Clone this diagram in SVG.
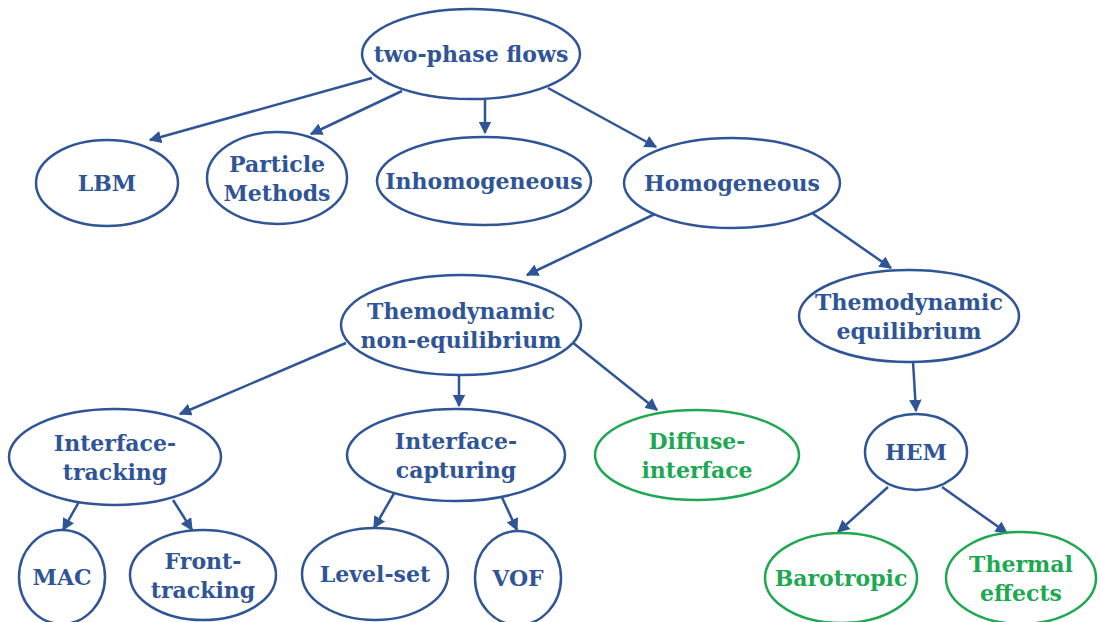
<svg xmlns="http://www.w3.org/2000/svg" width="1100" height="622" viewBox="0 0 1100 622">
<defs>
<marker id="ah" viewBox="0 0 10 10" refX="9" refY="5" markerWidth="5" markerHeight="5" orient="auto" markerUnits="strokeWidth">
<path d="M0,0 L10,5 L0,10 z" fill="#2F5597"/>
</marker>
<style>
.b ellipse{fill:#fff;stroke:#2F5597;stroke-width:2.5}
.g ellipse{fill:#fff;stroke:#1DA851;stroke-width:2.5}
text{font-family:"DejaVu Serif","Liberation Serif",serif;font-weight:bold;font-size:22px;text-anchor:middle}
.b text{fill:#2F5597}
.g text{fill:#1DA851}
#edges line{stroke:#2F5597;stroke-width:2.5;marker-end:url(#ah)}
</style>
</defs>
<rect width="1100" height="622" fill="#fff"/>
<g id="edges">
<line x1="372" y1="78" x2="150" y2="140"/>
<line x1="402" y1="91" x2="311" y2="134"/>
<line x1="485" y1="100" x2="485" y2="133"/>
<line x1="548" y1="88" x2="656" y2="147"/>
<line x1="657" y1="213" x2="527" y2="275"/>
<line x1="812" y1="213" x2="891" y2="268"/>
<line x1="346" y1="343" x2="180" y2="414"/>
<line x1="459" y1="375" x2="459" y2="406"/>
<line x1="572" y1="342" x2="657" y2="410"/>
<line x1="913" y1="362" x2="916" y2="411"/>
<line x1="80" y1="500" x2="63" y2="530"/>
<line x1="173" y1="500" x2="192" y2="530"/>
<line x1="396" y1="490" x2="374" y2="528"/>
<line x1="500" y1="493" x2="517" y2="530"/>
<line x1="888" y1="487" x2="838" y2="532"/>
<line x1="942" y1="487" x2="1007" y2="533"/>
</g>
<g id="root" class="b"><ellipse cx="471" cy="54" rx="109" ry="45"/><text x="471" y="62">two-phase flows</text></g>
<g id="lbm" class="b"><ellipse cx="107" cy="183" rx="71" ry="43"/><text x="107" y="191">LBM</text></g>
<g id="particle" class="b"><ellipse cx="277" cy="178" rx="70" ry="46"/><text x="277" y="172">Particle</text><text x="277" y="201">Methods</text></g>
<g id="inhom" class="b"><ellipse cx="484" cy="181" rx="107" ry="44"/><text x="484" y="189">Inhomogeneous</text></g>
<g id="hom" class="b"><ellipse cx="732" cy="183" rx="108" ry="45"/><text x="732" y="191">Homogeneous</text></g>
<g id="noneq" class="b"><ellipse cx="461" cy="325" rx="120" ry="50"/><text x="461" y="319">Themodynamic</text><text x="461" y="348">non-equilibrium</text></g>
<g id="eq" class="b"><ellipse cx="909" cy="316" rx="110" ry="46"/><text x="909" y="310">Themodynamic</text><text x="909" y="339">equilibrium</text></g>
<g id="itrack" class="b"><ellipse cx="115" cy="457" rx="106" ry="48"/><text x="115" y="451">Interface-</text><text x="115" y="480">tracking</text></g>
<g id="icapt" class="b"><ellipse cx="456" cy="455" rx="109" ry="46"/><text x="456" y="449">Interface-</text><text x="456" y="478">capturing</text></g>
<g id="diffuse" class="g"><ellipse cx="697" cy="455" rx="102" ry="45"/><text x="697" y="449">Diffuse-</text><text x="697" y="478">interface</text></g>
<g id="hem" class="b"><ellipse cx="916" cy="452" rx="51" ry="38"/><text x="916" y="460">HEM</text></g>
<g id="mac" class="b"><ellipse cx="62" cy="577" rx="43" ry="47"/><text x="62" y="585">MAC</text></g>
<g id="front" class="b"><ellipse cx="203" cy="575" rx="73" ry="45"/><text x="203" y="569">Front-</text><text x="203" y="598">tracking</text></g>
<g id="level" class="b"><ellipse cx="375" cy="574" rx="73" ry="46"/><text x="375" y="582">Level-set</text></g>
<g id="vof" class="b"><ellipse cx="518" cy="578" rx="43" ry="47"/><text x="518" y="586">VOF</text></g>
<g id="baro" class="g"><ellipse cx="841" cy="578" rx="76" ry="45"/><text x="841" y="586">Barotropic</text></g>
<g id="thermal" class="g"><ellipse cx="1021" cy="578" rx="75" ry="46"/><text x="1021" y="572">Thermal</text><text x="1021" y="601">effects</text></g>
</svg>
